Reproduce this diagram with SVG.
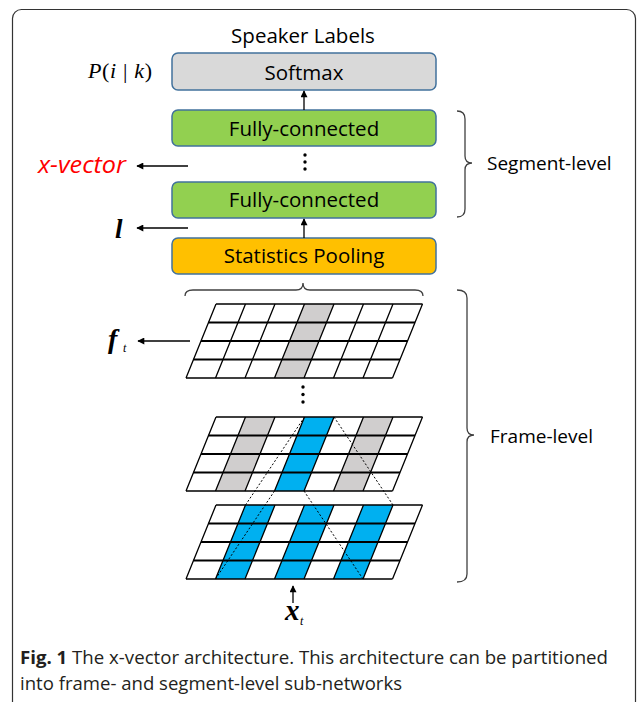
<svg xmlns="http://www.w3.org/2000/svg" xmlns:xlink="http://www.w3.org/1999/xlink" width="637" height="702" viewBox="0 0 637 702">
<style>
.box{stroke:#41719c;stroke-width:1.5}
.lbl{font-family:"Open Sans","Noto Sans",sans-serif;font-size:20.5px;fill:#000;text-anchor:middle}
.side{font-family:"Open Sans","Noto Sans",sans-serif;font-size:19px;fill:#000}
.math{font-family:"Liberation Serif","DejaVu Serif",serif;fill:#000}
.conn{stroke:#000;stroke-width:1.3;fill:none}
.brace{stroke:#404040;stroke-width:1.3;fill:none}
.dash{stroke:#000;stroke-width:1;stroke-dasharray:2,2;fill:none}
.gl{stroke:#000;stroke-width:1.3;fill:none}
.gh{stroke:#000;stroke-width:2;fill:none}
.blue{fill:#00b0f0}
.gray{fill:#d0cece}
.cap{font-family:"Open Sans","Noto Sans",sans-serif;font-size:18.5px;fill:#231f20}
</style>
<defs>
<marker id="ah" viewBox="0 0 10 10" refX="9" refY="5" markerWidth="8" markerHeight="7" orient="auto" markerUnits="userSpaceOnUse">
<path d="M0,0 L10,5 L0,10 z" fill="#000"/>
</marker>
<g id="grid">
<path class="gl" d="M30,0 L0,74 M59.5,0 L29.5,74 M89,0 L59,74 M118.5,0 L88.5,74 M148,0 L118,74 M177.5,0 L147.5,74 M207,0 L177,74 M236.5,0 L206.5,74"/>
<path class="gl" d="M30,0 L236.5,0 M0,74 L206.5,74"/>
<path class="gh" d="M22.5,18.5 L229,18.5 M15,37 L221.5,37 M7.5,55.5 L214,55.5"/>
</g>
<path id="c1" d="M59.5,0 L89,0 L59,74 L29.5,74 z"/>
<path id="c3" d="M118.5,0 L148,0 L118,74 L88.5,74 z"/>
<path id="c5" d="M177.5,0 L207,0 L177,74 L147.5,74 z"/>
</defs>

<rect x="12.5" y="9.5" width="623" height="730" rx="9" fill="#fff" stroke="#333" stroke-width="1.2"/>

<text class="lbl" x="303" y="43">Speaker Labels</text>
<text class="math" x="88" y="78" font-size="22" textLength="64"><tspan font-style="italic">P</tspan>(<tspan font-style="italic">i</tspan> | <tspan font-style="italic">k</tspan>)</text>

<g id="softmax">
<rect class="box" x="172" y="53" width="264" height="37" rx="6" fill="#d9d9d9"/>
<text class="lbl" x="304" y="80">Softmax</text>
</g>
<g id="fc1">
<rect class="box" x="172" y="110" width="264" height="36" rx="6" fill="#92d050"/>
<text class="lbl" x="304" y="136">Fully-connected</text>
</g>
<g id="dots1" fill="#000">
<circle cx="305" cy="155" r="1.7"/><circle cx="305" cy="162" r="1.7"/><circle cx="305" cy="169" r="1.7"/>
</g>
<g id="fc2">
<rect class="box" x="172" y="182" width="264" height="36" rx="6" fill="#92d050"/>
<text class="lbl" x="304" y="207">Fully-connected</text>
</g>
<g id="pooling">
<rect class="box" x="172" y="238" width="264" height="36" rx="6" fill="#ffc000"/>
<text class="lbl" x="304" y="263">Statistics Pooling</text>
</g>

<g id="xvector">
<text x="38" y="173" textLength="88" lengthAdjust="spacingAndGlyphs" font-family="'Open Sans','Noto Sans',sans-serif" font-style="italic" font-size="23.5" fill="#ff0000">x-vector</text>
</g>
<g id="l-label">
<text class="math" x="115" y="238" font-size="27" font-style="italic" font-weight="bold">l</text>
</g>

<g id="grid-top">
<g transform="translate(186,304)">
<use xlink:href="#c3" class="gray"/>
<use xlink:href="#grid"/>
</g>
</g>
<g id="ft-label">
<text class="math" x="108" y="348" font-size="28" font-style="italic" font-weight="bold">f</text>
<text class="math" x="123" y="352" font-size="12" font-style="italic">t</text>
</g>
<g id="dots2" fill="#000">
<circle cx="303" cy="387" r="1.7"/><circle cx="303" cy="394.5" r="1.7"/><circle cx="303" cy="402" r="1.7"/>
</g>
<g id="grid-mid">
<g transform="translate(186,417)">
<use xlink:href="#c1" class="gray"/>
<use xlink:href="#c5" class="gray"/>
<use xlink:href="#c3" class="blue"/>
<use xlink:href="#grid"/>
</g>
</g>
<g id="grid-bottom">
<g transform="translate(186,505)">
<use xlink:href="#c1" class="blue"/>
<use xlink:href="#c3" class="blue"/>
<use xlink:href="#c5" class="blue"/>
<use xlink:href="#grid"/>
</g>
</g>
<g id="xt-label">
<text class="math" x="285" y="620" font-size="29" font-style="italic" font-weight="bold">x</text>
<text class="math" x="300" y="625" font-size="12" font-style="italic">t</text>
</g>

<g id="connectors">
<line class="conn" x1="304" y1="110" x2="304" y2="91" marker-end="url(#ah)"/>
<line class="conn" x1="304" y1="238" x2="304" y2="219" marker-end="url(#ah)"/>
<line class="conn" x1="188" y1="166" x2="137" y2="166" marker-end="url(#ah)"/>
<line class="conn" x1="188" y1="228" x2="137" y2="228" marker-end="url(#ah)"/>
<line class="conn" x1="190" y1="341" x2="138" y2="341" marker-end="url(#ah)"/>
<line class="conn" x1="293" y1="603" x2="293" y2="586" marker-end="url(#ah)"/>
<path class="dash" d="M304.5,417 L245.5,505 M274.5,491 L215.5,579 M334,417 L393,505 M304,491 L363,579"/>
</g>

<g id="braces">
<path class="brace" d="M457,111 Q465,111 465,119 L465,156 Q465,163 472,163 Q465,163 465,170 L465,209 Q465,217 457,217"/>
<path class="brace" d="M457,290 Q467,290 467,298 L467,428 Q467,435 474,435 Q467,435 467,442 L467,574 Q467,582 457,582"/>
<path class="brace" d="M185,296 Q185,290 193,290 L296,290 Q303,290 303,283 Q303,290 310,290 L415,290 Q423,290 423,296"/>
</g>
<text class="side" x="487" y="170">Segment-level</text>
<text class="side" x="490" y="443">Frame-level</text>

<g id="caption">
<text class="cap" x="20" y="664" textLength="588" lengthAdjust="spacingAndGlyphs"><tspan font-weight="bold">Fig. 1</tspan> The x-vector architecture. This architecture can be partitioned</text>
<text class="cap" x="20" y="690" textLength="382" lengthAdjust="spacingAndGlyphs">into frame- and segment-level sub-networks</text>
</g>
</svg>
